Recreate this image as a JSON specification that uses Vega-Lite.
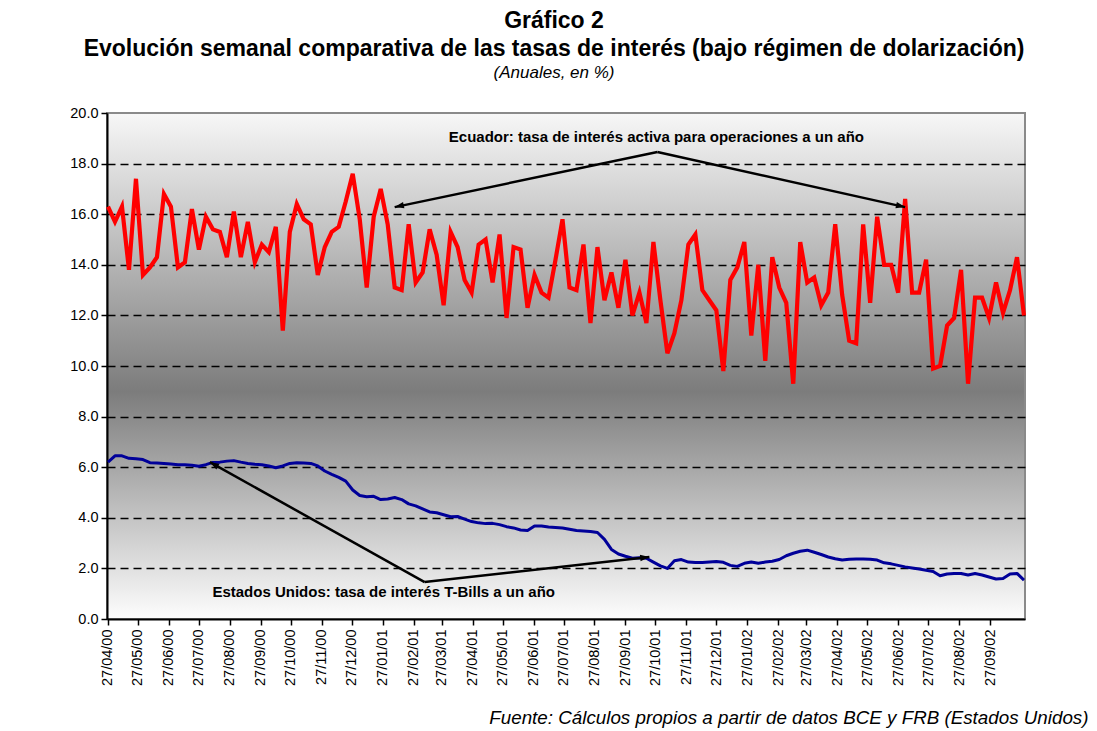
{
  "$schema": "https://vega.github.io/schema/vega-lite/v6.json",
  "width": 918,
  "height": 506,
  "autosize": {"type": "none"},
  "padding": {"left": 107, "top": 113, "right": 72, "bottom": 112},
  "background": "white",
  "title": {
    "text": ["Gráfico 2", "Evolución semanal comparativa de las tasas de interés (bajo régimen de dolarización)"],
    "subtitle": "(Anuales, en %)",
    "font": "Liberation Sans",
    "fontSize": 23,
    "fontWeight": "bold",
    "color": "black",
    "lineHeight": 28,
    "subtitleFont": "Liberation Sans",
    "subtitleFontSize": 17,
    "subtitleFontStyle": "italic",
    "subtitleColor": "black",
    "subtitlePadding": 4,
    "anchor": "middle",
    "dx": -12,
    "offset": 24
  },
  "config": {
    "view": {
      "stroke": "#8a8a8a",
      "strokeWidth": 2,
      "fill": {
        "gradient": "linear",
        "x1": 0, "y1": 0, "x2": 0, "y2": 1,
        "stops": [
          {"offset": 0, "color": "#f7f7f7"},
          {"offset": 0.55, "color": "#7c7c7c"},
          {"offset": 1, "color": "#fdfdfd"}
        ]
      }
    }
  },
  "datasets": {
    "tasas": [
      {"fecha": "2000-04-27", "ecuador": 16.3, "eeuu": 6.2},
      {"fecha": "2000-05-04", "ecuador": 15.7, "eeuu": 6.45},
      {"fecha": "2000-05-11", "ecuador": 16.3, "eeuu": 6.45},
      {"fecha": "2000-05-18", "ecuador": 13.8, "eeuu": 6.35},
      {"fecha": "2000-05-25", "ecuador": 17.4, "eeuu": 6.33},
      {"fecha": "2000-06-01", "ecuador": 13.6, "eeuu": 6.3},
      {"fecha": "2000-06-08", "ecuador": 13.9, "eeuu": 6.18},
      {"fecha": "2000-06-15", "ecuador": 14.3, "eeuu": 6.17},
      {"fecha": "2000-06-22", "ecuador": 16.8, "eeuu": 6.15},
      {"fecha": "2000-06-29", "ecuador": 16.3, "eeuu": 6.13},
      {"fecha": "2000-07-06", "ecuador": 13.9, "eeuu": 6.1},
      {"fecha": "2000-07-13", "ecuador": 14.1, "eeuu": 6.1},
      {"fecha": "2000-07-20", "ecuador": 16.2, "eeuu": 6.08},
      {"fecha": "2000-07-27", "ecuador": 14.6, "eeuu": 6.04},
      {"fecha": "2000-08-03", "ecuador": 15.9, "eeuu": 6.1},
      {"fecha": "2000-08-10", "ecuador": 15.4, "eeuu": 6.19},
      {"fecha": "2000-08-17", "ecuador": 15.3, "eeuu": 6.2},
      {"fecha": "2000-08-24", "ecuador": 14.3, "eeuu": 6.24},
      {"fecha": "2000-08-31", "ecuador": 16.1, "eeuu": 6.26},
      {"fecha": "2000-09-07", "ecuador": 14.3, "eeuu": 6.2},
      {"fecha": "2000-09-14", "ecuador": 15.7, "eeuu": 6.15},
      {"fecha": "2000-09-21", "ecuador": 14.1, "eeuu": 6.12},
      {"fecha": "2000-09-28", "ecuador": 14.8, "eeuu": 6.1},
      {"fecha": "2000-10-05", "ecuador": 14.5, "eeuu": 6.05},
      {"fecha": "2000-10-12", "ecuador": 15.5, "eeuu": 5.98},
      {"fecha": "2000-10-19", "ecuador": 11.4, "eeuu": 6.05},
      {"fecha": "2000-10-26", "ecuador": 15.3, "eeuu": 6.15},
      {"fecha": "2000-11-02", "ecuador": 16.4, "eeuu": 6.18},
      {"fecha": "2000-11-09", "ecuador": 15.8, "eeuu": 6.17},
      {"fecha": "2000-11-16", "ecuador": 15.6, "eeuu": 6.15},
      {"fecha": "2000-11-23", "ecuador": 13.6, "eeuu": 6.05},
      {"fecha": "2000-11-30", "ecuador": 14.7, "eeuu": 5.85},
      {"fecha": "2000-12-07", "ecuador": 15.3, "eeuu": 5.72},
      {"fecha": "2000-12-14", "ecuador": 15.5, "eeuu": 5.6},
      {"fecha": "2000-12-21", "ecuador": 16.5, "eeuu": 5.45},
      {"fecha": "2000-12-28", "ecuador": 17.6, "eeuu": 5.1},
      {"fecha": "2001-01-04", "ecuador": 15.8, "eeuu": 4.88},
      {"fecha": "2001-01-11", "ecuador": 13.1, "eeuu": 4.83},
      {"fecha": "2001-01-18", "ecuador": 15.9, "eeuu": 4.85},
      {"fecha": "2001-01-25", "ecuador": 17.0, "eeuu": 4.72},
      {"fecha": "2001-02-01", "ecuador": 15.6, "eeuu": 4.74},
      {"fecha": "2001-02-08", "ecuador": 13.1, "eeuu": 4.8},
      {"fecha": "2001-02-15", "ecuador": 13.0, "eeuu": 4.72},
      {"fecha": "2001-02-22", "ecuador": 15.6, "eeuu": 4.55},
      {"fecha": "2001-03-01", "ecuador": 13.3, "eeuu": 4.47},
      {"fecha": "2001-03-08", "ecuador": 13.7, "eeuu": 4.35},
      {"fecha": "2001-03-15", "ecuador": 15.4, "eeuu": 4.23},
      {"fecha": "2001-03-22", "ecuador": 14.4, "eeuu": 4.2},
      {"fecha": "2001-03-29", "ecuador": 12.4, "eeuu": 4.12},
      {"fecha": "2001-04-05", "ecuador": 15.3, "eeuu": 4.04},
      {"fecha": "2001-04-12", "ecuador": 14.7, "eeuu": 4.05},
      {"fecha": "2001-04-19", "ecuador": 13.4, "eeuu": 3.95},
      {"fecha": "2001-04-26", "ecuador": 12.9, "eeuu": 3.85},
      {"fecha": "2001-05-03", "ecuador": 14.8, "eeuu": 3.8},
      {"fecha": "2001-05-10", "ecuador": 15.0, "eeuu": 3.77},
      {"fecha": "2001-05-17", "ecuador": 13.3, "eeuu": 3.78},
      {"fecha": "2001-05-24", "ecuador": 15.2, "eeuu": 3.73},
      {"fecha": "2001-05-31", "ecuador": 11.9, "eeuu": 3.65},
      {"fecha": "2001-06-07", "ecuador": 14.7, "eeuu": 3.6},
      {"fecha": "2001-06-14", "ecuador": 14.6, "eeuu": 3.52},
      {"fecha": "2001-06-21", "ecuador": 12.3, "eeuu": 3.5},
      {"fecha": "2001-06-28", "ecuador": 13.6, "eeuu": 3.68},
      {"fecha": "2001-07-05", "ecuador": 12.9, "eeuu": 3.68},
      {"fecha": "2001-07-12", "ecuador": 12.7, "eeuu": 3.64},
      {"fecha": "2001-07-19", "ecuador": 14.2, "eeuu": 3.62},
      {"fecha": "2001-07-26", "ecuador": 15.8, "eeuu": 3.6},
      {"fecha": "2001-08-02", "ecuador": 13.1, "eeuu": 3.55},
      {"fecha": "2001-08-09", "ecuador": 13.0, "eeuu": 3.5},
      {"fecha": "2001-08-16", "ecuador": 14.8, "eeuu": 3.48},
      {"fecha": "2001-08-23", "ecuador": 11.7, "eeuu": 3.46},
      {"fecha": "2001-08-30", "ecuador": 14.7, "eeuu": 3.42},
      {"fecha": "2001-09-06", "ecuador": 12.6, "eeuu": 3.15},
      {"fecha": "2001-09-13", "ecuador": 13.7, "eeuu": 2.75},
      {"fecha": "2001-09-20", "ecuador": 12.3, "eeuu": 2.57},
      {"fecha": "2001-09-27", "ecuador": 14.2, "eeuu": 2.48},
      {"fecha": "2001-10-04", "ecuador": 12.0, "eeuu": 2.4},
      {"fecha": "2001-10-11", "ecuador": 12.9, "eeuu": 2.42},
      {"fecha": "2001-10-18", "ecuador": 11.7, "eeuu": 2.4},
      {"fecha": "2001-10-25", "ecuador": 14.9, "eeuu": 2.25},
      {"fecha": "2001-11-01", "ecuador": 12.6, "eeuu": 2.1},
      {"fecha": "2001-11-08", "ecuador": 10.5, "eeuu": 2.0},
      {"fecha": "2001-11-15", "ecuador": 11.3, "eeuu": 2.3},
      {"fecha": "2001-11-22", "ecuador": 12.6, "eeuu": 2.35},
      {"fecha": "2001-11-29", "ecuador": 14.8, "eeuu": 2.25},
      {"fecha": "2001-12-06", "ecuador": 15.2, "eeuu": 2.23},
      {"fecha": "2001-12-13", "ecuador": 13.0, "eeuu": 2.23},
      {"fecha": "2001-12-20", "ecuador": 12.6, "eeuu": 2.25},
      {"fecha": "2001-12-27", "ecuador": 12.2, "eeuu": 2.27},
      {"fecha": "2002-01-03", "ecuador": 9.8, "eeuu": 2.24},
      {"fecha": "2002-01-10", "ecuador": 13.4, "eeuu": 2.12},
      {"fecha": "2002-01-17", "ecuador": 13.9, "eeuu": 2.08},
      {"fecha": "2002-01-24", "ecuador": 14.9, "eeuu": 2.2},
      {"fecha": "2002-01-31", "ecuador": 11.2, "eeuu": 2.25},
      {"fecha": "2002-02-07", "ecuador": 14.0, "eeuu": 2.2},
      {"fecha": "2002-02-14", "ecuador": 10.2, "eeuu": 2.25},
      {"fecha": "2002-02-21", "ecuador": 14.3, "eeuu": 2.28},
      {"fecha": "2002-02-28", "ecuador": 13.1, "eeuu": 2.35},
      {"fecha": "2002-03-07", "ecuador": 12.5, "eeuu": 2.5},
      {"fecha": "2002-03-14", "ecuador": 9.3, "eeuu": 2.6},
      {"fecha": "2002-03-21", "ecuador": 14.9, "eeuu": 2.68},
      {"fecha": "2002-03-28", "ecuador": 13.3, "eeuu": 2.72},
      {"fecha": "2002-04-04", "ecuador": 13.5, "eeuu": 2.64},
      {"fecha": "2002-04-11", "ecuador": 12.4, "eeuu": 2.55},
      {"fecha": "2002-04-18", "ecuador": 12.9, "eeuu": 2.45},
      {"fecha": "2002-04-25", "ecuador": 15.6, "eeuu": 2.38},
      {"fecha": "2002-05-02", "ecuador": 12.8, "eeuu": 2.33},
      {"fecha": "2002-05-09", "ecuador": 11.0, "eeuu": 2.36},
      {"fecha": "2002-05-16", "ecuador": 10.9, "eeuu": 2.37},
      {"fecha": "2002-05-23", "ecuador": 15.6, "eeuu": 2.37},
      {"fecha": "2002-05-30", "ecuador": 12.5, "eeuu": 2.36},
      {"fecha": "2002-06-06", "ecuador": 15.9, "eeuu": 2.33},
      {"fecha": "2002-06-13", "ecuador": 14.0, "eeuu": 2.22},
      {"fecha": "2002-06-20", "ecuador": 14.0, "eeuu": 2.18},
      {"fecha": "2002-06-27", "ecuador": 12.9, "eeuu": 2.12},
      {"fecha": "2002-07-04", "ecuador": 16.6, "eeuu": 2.06},
      {"fecha": "2002-07-11", "ecuador": 12.9, "eeuu": 2.02},
      {"fecha": "2002-07-18", "ecuador": 12.9, "eeuu": 1.98},
      {"fecha": "2002-07-25", "ecuador": 14.2, "eeuu": 1.93},
      {"fecha": "2002-08-01", "ecuador": 9.9, "eeuu": 1.88},
      {"fecha": "2002-08-08", "ecuador": 10.0, "eeuu": 1.71},
      {"fecha": "2002-08-15", "ecuador": 11.6, "eeuu": 1.78},
      {"fecha": "2002-08-22", "ecuador": 11.9, "eeuu": 1.8},
      {"fecha": "2002-08-29", "ecuador": 13.8, "eeuu": 1.8},
      {"fecha": "2002-09-05", "ecuador": 9.3, "eeuu": 1.74},
      {"fecha": "2002-09-12", "ecuador": 12.7, "eeuu": 1.8},
      {"fecha": "2002-09-19", "ecuador": 12.7, "eeuu": 1.74},
      {"fecha": "2002-09-26", "ecuador": 11.9, "eeuu": 1.66},
      {"fecha": "2002-10-03", "ecuador": 13.3, "eeuu": 1.58},
      {"fecha": "2002-10-10", "ecuador": 12.1, "eeuu": 1.6},
      {"fecha": "2002-10-17", "ecuador": 13.0, "eeuu": 1.78},
      {"fecha": "2002-10-24", "ecuador": 14.3, "eeuu": 1.8},
      {"fecha": "2002-10-31", "ecuador": 12.0, "eeuu": 1.54}
    ],
    "flechas": [
      {"flecha": "e1", "fecha0": "2001-10-29", "v0": 18.46, "fecha1": "2001-02-08", "v1": 16.28},
      {"flecha": "e2", "fecha0": "2001-10-29", "v0": 18.46, "fecha1": "2002-07-04", "v1": 16.28},
      {"flecha": "u1", "fecha0": "2001-03-10", "v0": 1.46, "fecha1": "2000-08-07", "v1": 6.2},
      {"flecha": "u2", "fecha0": "2001-03-10", "v0": 1.46, "fecha1": "2001-10-21", "v1": 2.45}
    ],
    "etiquetas": [
      {"texto": "Ecuador: tasa de interés activa para operaciones a un año", "fecha": "2001-10-28", "valor": 19.05},
      {"texto": "Estados Unidos: tasa de interés T-Bills a un año", "fecha": "2001-01-28", "valor": 1.07}
    ]
  },
  "layer": [
    {
      "data": {"name": "tasas"},
      "mark": {"type": "line", "color": "#000099", "strokeWidth": 3, "strokeJoin": "round"},
      "encoding": {
        "x": {
          "field": "fecha",
          "type": "temporal",
          "scale": {
            "type": "utc",
            "domain": [
              {"year": 2000, "month": 4, "date": 26, "utc": true},
              {"year": 2002, "month": 11, "date": 1, "utc": true}
            ]
          },
          "axis": {
            "values": [
              {"year": 2000, "month": 4, "date": 27, "utc": true},
              {"year": 2000, "month": 5, "date": 27, "utc": true},
              {"year": 2000, "month": 6, "date": 27, "utc": true},
              {"year": 2000, "month": 7, "date": 27, "utc": true},
              {"year": 2000, "month": 8, "date": 27, "utc": true},
              {"year": 2000, "month": 9, "date": 27, "utc": true},
              {"year": 2000, "month": 10, "date": 27, "utc": true},
              {"year": 2000, "month": 11, "date": 27, "utc": true},
              {"year": 2000, "month": 12, "date": 27, "utc": true},
              {"year": 2001, "month": 1, "date": 27, "utc": true},
              {"year": 2001, "month": 2, "date": 27, "utc": true},
              {"year": 2001, "month": 3, "date": 27, "utc": true},
              {"year": 2001, "month": 4, "date": 27, "utc": true},
              {"year": 2001, "month": 5, "date": 27, "utc": true},
              {"year": 2001, "month": 6, "date": 27, "utc": true},
              {"year": 2001, "month": 7, "date": 27, "utc": true},
              {"year": 2001, "month": 8, "date": 27, "utc": true},
              {"year": 2001, "month": 9, "date": 27, "utc": true},
              {"year": 2001, "month": 10, "date": 27, "utc": true},
              {"year": 2001, "month": 11, "date": 27, "utc": true},
              {"year": 2001, "month": 12, "date": 27, "utc": true},
              {"year": 2002, "month": 1, "date": 27, "utc": true},
              {"year": 2002, "month": 2, "date": 27, "utc": true},
              {"year": 2002, "month": 3, "date": 27, "utc": true},
              {"year": 2002, "month": 4, "date": 27, "utc": true},
              {"year": 2002, "month": 5, "date": 27, "utc": true},
              {"year": 2002, "month": 6, "date": 27, "utc": true},
              {"year": 2002, "month": 7, "date": 27, "utc": true},
              {"year": 2002, "month": 8, "date": 27, "utc": true},
              {"year": 2002, "month": 9, "date": 27, "utc": true}
            ],
            "tickCount": 60,
            "format": "%d/%m/%y",
            "labelAngle": 270,
            "labelFont": "Liberation Sans",
            "labelFontSize": 14.5,
            "labelColor": "black",
            "labelPadding": 4,
            "labelOverlap": false,
            "labelFlush": false,
            "grid": false,
            "domainColor": "black",
            "domainWidth": 2,
            "tickColor": "black",
            "tickWidth": 1.5,
            "tickSize": 6,
            "title": "Fuente: Cálculos propios a partir de datos BCE y FRB (Estados Unidos)",
            "titleFont": "Liberation Sans",
            "titleFontSize": 18.8,
            "titleFontStyle": "italic",
            "titleFontWeight": "normal",
            "titleColor": "black",
            "titleAlign": "right",
            "titleAnchor": null,
            "titleBaseline": "alphabetic",
            "titleX": 981,
            "titleY": 104
          }
        },
        "y": {
          "field": "eeuu",
          "type": "quantitative",
          "scale": {"domain": [0, 20], "nice": false, "zero": true},
          "axis": {
            "values": [0, 2, 4, 6, 8, 10, 12, 14, 16, 18, 20],
            "format": ".1f",
            "title": null,
            "grid": true,
            "gridColor": "black",
            "gridDash": [8, 5],
            "gridWidth": 1.3,
            "gridOpacity": {"condition": {"test": "datum.value == 0 || datum.value == 20", "value": 0}, "value": 1},
            "domainColor": "black",
            "domainWidth": 2,
            "tickColor": "black",
            "tickWidth": 1.5,
            "tickSize": 6,
            "labelFont": "Liberation Sans",
            "labelFontSize": 14.5,
            "labelColor": "black",
            "labelPadding": 3
          }
        }
      }
    },
    {
      "data": {"name": "tasas"},
      "mark": {"type": "line", "color": "#ff0000", "strokeWidth": 4.2, "strokeJoin": "miter"},
      "encoding": {
        "x": {"field": "fecha", "type": "temporal"},
        "y": {"field": "ecuador", "type": "quantitative"}
      }
    },
    {
      "data": {"name": "flechas"},
      "mark": {"type": "rule", "color": "black", "strokeWidth": 2.5},
      "encoding": {
        "x": {"field": "fecha0", "type": "temporal"},
        "x2": {"field": "fecha1"},
        "y": {"field": "v0", "type": "quantitative"},
        "y2": {"field": "v1"}
      }
    },
    {
      "data": {"name": "flechas"},
      "transform": [{"filter": "datum.flecha == 'e1'"}],
      "mark": {"type": "point", "shape": "M0,0L-0.35,1L0.35,1Z", "filled": true, "color": "black", "opacity": 1, "size": 340, "angle": 258},
      "encoding": {
        "x": {"field": "fecha1", "type": "temporal"},
        "y": {"field": "v1", "type": "quantitative"}
      }
    },
    {
      "data": {"name": "flechas"},
      "transform": [{"filter": "datum.flecha == 'e2'"}],
      "mark": {"type": "point", "shape": "M0,0L-0.35,1L0.35,1Z", "filled": true, "color": "black", "opacity": 1, "size": 340, "angle": 103},
      "encoding": {
        "x": {"field": "fecha1", "type": "temporal"},
        "y": {"field": "v1", "type": "quantitative"}
      }
    },
    {
      "data": {"name": "flechas"},
      "transform": [{"filter": "datum.flecha == 'u1'"}],
      "mark": {"type": "point", "shape": "M0,0L-0.35,1L0.35,1Z", "filled": true, "color": "black", "opacity": 1, "size": 340, "angle": 299},
      "encoding": {
        "x": {"field": "fecha1", "type": "temporal"},
        "y": {"field": "v1", "type": "quantitative"}
      }
    },
    {
      "data": {"name": "flechas"},
      "transform": [{"filter": "datum.flecha == 'u2'"}],
      "mark": {"type": "point", "shape": "M0,0L-0.35,1L0.35,1Z", "filled": true, "color": "black", "opacity": 1, "size": 340, "angle": 84},
      "encoding": {
        "x": {"field": "fecha1", "type": "temporal"},
        "y": {"field": "v1", "type": "quantitative"}
      }
    },
    {
      "data": {"name": "etiquetas"},
      "mark": {"type": "text", "font": "Liberation Sans", "fontSize": 15, "fontWeight": "bold", "color": "black", "align": "center", "baseline": "middle"},
      "encoding": {
        "x": {"field": "fecha", "type": "temporal"},
        "y": {"field": "valor", "type": "quantitative"},
        "text": {"field": "texto"}
      }
    }
  ]
}
